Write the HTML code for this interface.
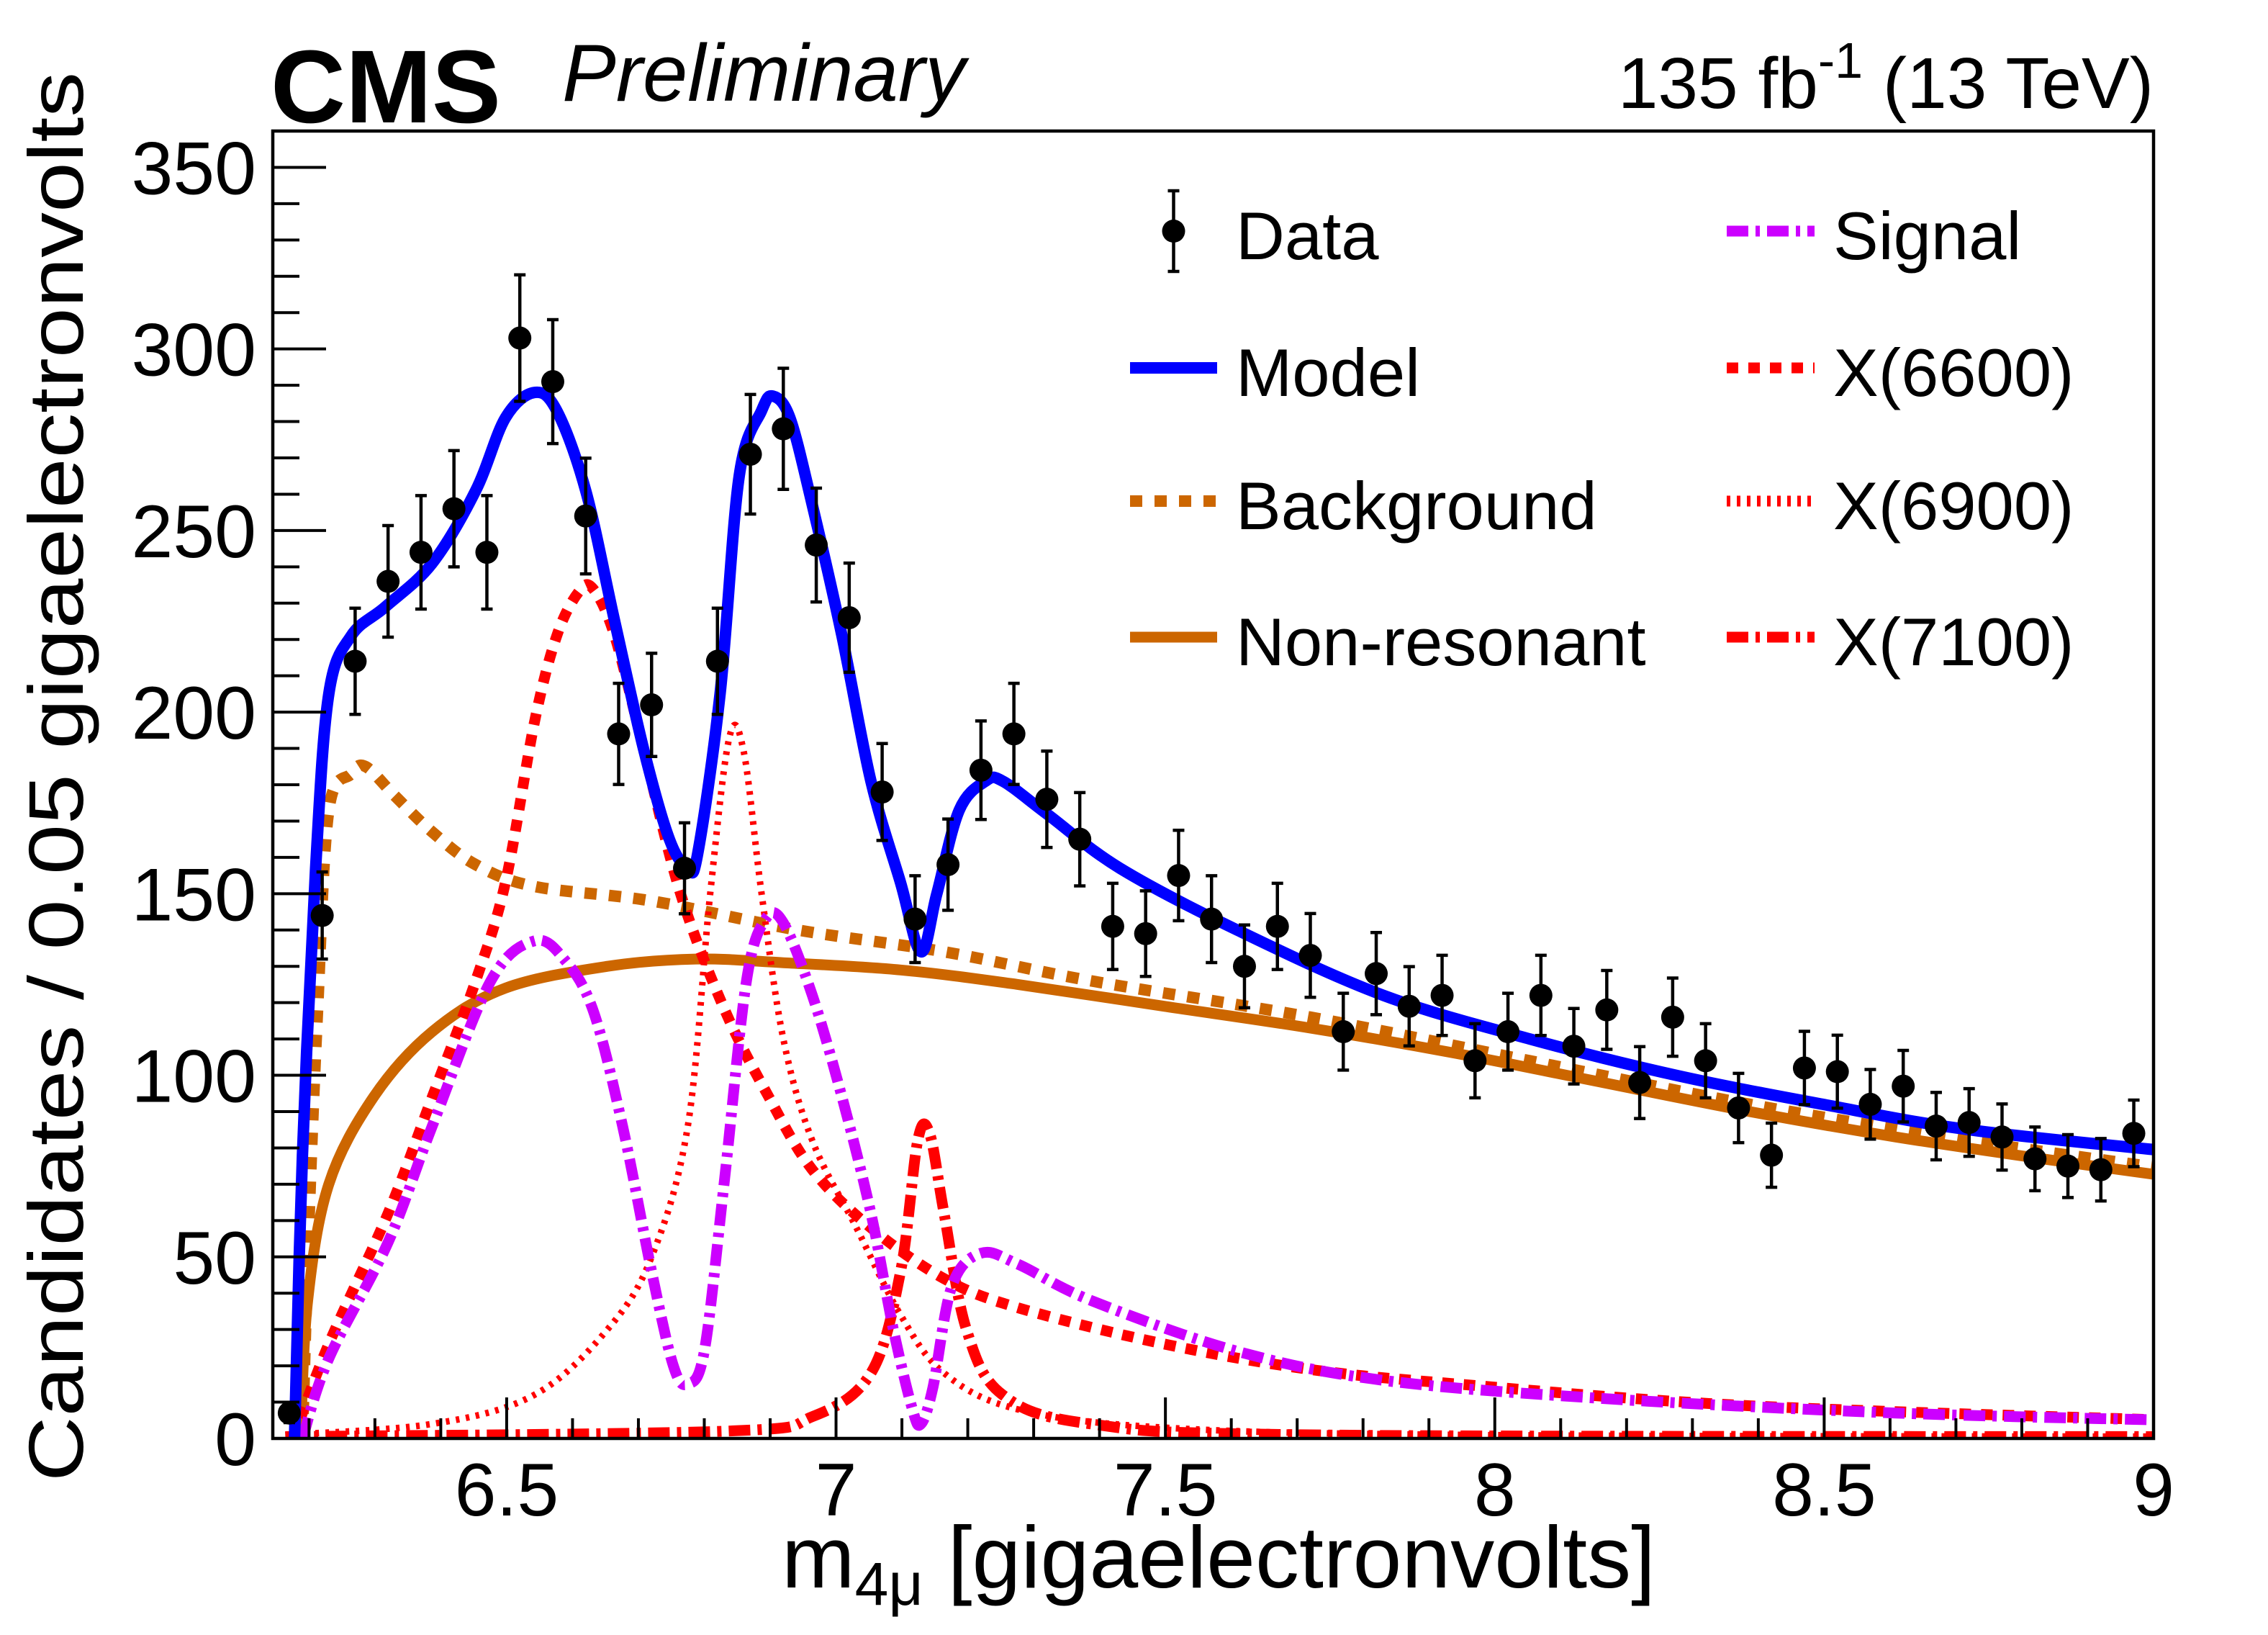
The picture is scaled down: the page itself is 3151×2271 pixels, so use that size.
<!DOCTYPE html>
<html><head><meta charset="utf-8">
<style>
html,body{margin:0;padding:0;background:#fff;}
svg{display:block;font-family:"Liberation Sans",Arial,sans-serif;}
</style></head>
<body>
<svg id="chart" width="3151" height="2271" viewBox="0 0 3151 2271" xmlns="http://www.w3.org/2000/svg">
<rect width="3151" height="2271" fill="#fff"/>
<defs><clipPath id="plotclip"><rect x="379" y="182" width="2613" height="1816"/></clipPath></defs>
<g id="curves" clip-path="url(#plotclip)"></g>
<g id="data"></g>
<g id="axes"></g>
<text x="376" y="170" font-size="144" font-weight="bold">CMS</text>
<text x="781" y="140" font-size="112" font-style="italic">Preliminary</text>
<text x="2992" y="150" font-size="100" text-anchor="end">135 fb<tspan dy="-42" font-size="70">-1</tspan><tspan dy="42"> (13 TeV)</tspan></text>
<text x="2300" y="2205" font-size="122" text-anchor="end">m<tspan dy="24" font-size="84">4μ</tspan><tspan dy="-24"> [gigaelectronvolts]</tspan></text>
<text transform="translate(115,2058) rotate(-90)" x="0" y="0" font-size="108" textLength="1958" lengthAdjust="spacingAndGlyphs">Candidates / 0.05 gigaelectronvolts</text>
<g id="legend"></g>
</svg>
<script>
const NS="http://www.w3.org/2000/svg";
// ---- data arrays ----
const dataX0 = 6.17, binW = 0.05;
const dataCounts = [7,144,214,236,244,256,244,303,291,254,194,202,157,214,271,278,246,226,178,143,158,184,194,176,165,141,139,155,143,130,141,133,112,128,119,122,104,112,122,108,118,98,116,104,91,78,102,101,92,97,86,87,83,77,75,74,84];
const modelX = [6.178,6.19,6.21,6.23,6.264,6.316,6.387,6.453,6.498,6.542,6.576,6.62,6.664,6.709,6.747,6.775,6.79,6.824,6.853,6.887,6.904,6.93,6.964,7.009,7.053,7.098,7.129,7.153,7.187,7.227,7.253,7.32,7.431,7.609,7.831,8.053,8.275,8.498,8.72,9.03];
const modelY = [0,78,157,205,221,229,241,261,281,288,283,261,225,189,165,157,161,205,265,283,287,281,257,221,181,153,134,150,173,181,181,172,157,140,122,110,100,92,85,79];
const bkgX = [6.19,6.2,6.213,6.23,6.264,6.286,6.33,6.387,6.453,6.542,6.72,6.942,7.164,7.387,7.72,8.053,8.387,8.72,9.03];
const bkgY = [0,60,118,173,183,185,177,167,158,152,148,140,134,126,116,104,92,82,74];
const nonresX = [6.187,6.198,6.23,6.298,6.387,6.498,6.653,6.787,6.92,7.098,7.276,7.498,7.72,7.942,8.164,8.387,8.609,8.831,9.03];
const nonresY = [0,38,70,94,112,124,130,132,131,129,125,119,113,106,98,90,83,77,72];
const sigX = [6.19,6.23,6.32,6.387,6.476,6.542,6.587,6.631,6.676,6.72,6.753,6.775,6.8,6.83,6.864,6.893,6.92,6.964,7.009,7.053,7.087,7.116,7.129,7.147,7.176,7.22,7.276,7.387,7.609,7.831,8.164,8.609,9.03];
const sigY = [0,22,54,86,126,137,132,118,86,46,20,15,24,70,126,143,142,122,94,62,30,8,4,14,42,51,48,38,24,16,11,7,5];
const x6600X = [6.176,6.23,6.32,6.387,6.453,6.498,6.542,6.576,6.609,6.631,6.664,6.709,6.764,6.831,6.898,6.964,7.053,7.164,7.276,7.498,7.72,7.942,8.387,9.03];
const x6600Y = [0,26,62,94,126,153,197,221,233,234,221,189,150,118,94,74,58,44,36,26,19,15,9,5];
const x6900X = [6.164,6.387,6.542,6.653,6.72,6.775,6.809,6.838,6.86,6.887,6.92,6.964,7.031,7.098,7.164,7.276,7.498,7.942,9.03];
const x6900Y = [1,4,12,30,50,86,150,193,189,150,110,82,58,34,18,8,3,1,0.5];
const x7100X = [6.164,6.831,6.964,7.053,7.098,7.124,7.142,7.164,7.198,7.253,7.387,7.72,9.03];
const x7100Y = [0.5,2,6,18,46,82,84,62,30,12,4,1,0.5];
const xTickLabels = ["6.5","7","7.5","8","8.5","9"];
const yTickLabels = ["0","50","100","150","200","250","300","350"];
// ---- axes functions ----
const X0=379,X1=2992,Y0=1998,Y1=182, xmin=6.145, xmax=9.0, ymin=0, ymax=360;
const sx=v=>X0+(v-xmin)/(xmax-xmin)*(X1-X0);
const sy=v=>Y0-(v-ymin)/(ymax-ymin)*(Y0-Y1);
function mk(tag,attrs,parent){const e=document.createElementNS(NS,tag);for(const k in attrs)e.setAttribute(k,attrs[k]);parent.appendChild(e);return e;}
function smoothPath(xs,ys){
  const p=xs.map((x,i)=>[sx(x),sy(ys[i])]);
  let d=`M${p[0][0].toFixed(1)},${p[0][1].toFixed(1)}`;
  for(let i=0;i<p.length-1;i++){
    const p0=p[Math.max(i-1,0)],p1=p[i],p2=p[i+1],p3=p[Math.min(i+2,p.length-1)];
    const c1=[p1[0]+(p2[0]-p0[0])/6,p1[1]+(p2[1]-p0[1])/6];
    const c2=[p2[0]-(p3[0]-p1[0])/6,p2[1]-(p3[1]-p1[1])/6];
    d+=` C${c1[0].toFixed(1)},${c1[1].toFixed(1)} ${c2[0].toFixed(1)},${c2[1].toFixed(1)} ${p2[0].toFixed(1)},${p2[1].toFixed(1)}`;
  }
  return d;
}
const curves=document.getElementById('curves');
const styles={
 nonres:{c:"#cc6600",w:15,da:""},
 bkg:{c:"#cc6600",w:16,da:"17 17"},
 x6900:{c:"#ff0000",w:9,da:"5 9"},
 x7100:{c:"#ff0000",w:15,da:"30 10 6 10"},
 x6600:{c:"#ff0000",w:15,da:"16 14"},
 sig:{c:"#cc00ff",w:15,da:"30 10 6 10"},
 model:{c:"#0000ff",w:16,da:""}
};
function drawCurve(xs,ys,st,name){
  const e=mk('path',{d:smoothPath(xs,ys),fill:"none",stroke:st.c,"stroke-width":st.w,"stroke-linejoin":"round"},curves);
  if(st.da)e.setAttribute('stroke-dasharray',st.da);
  
  
}
drawCurve(nonresX,nonresY,styles.nonres,'non-resonant-curve');
drawCurve(bkgX,bkgY,styles.bkg,'background-curve');
drawCurve(x6900X,x6900Y,styles.x6900,'x6900-curve');
drawCurve(x7100X,x7100Y,styles.x7100,'x7100-curve');
drawCurve(x6600X,x6600Y,styles.x6600,'x6600-curve');
drawCurve(sigX,sigY,styles.sig,'signal-curve');
drawCurve(modelX,modelY,styles.model,'model-curve');
// data points
const dg=document.getElementById('data');
dataCounts.forEach((n,i)=>{
  const xv=dataX0+i*binW, err=Math.sqrt(n);
  const cx=sx(xv), yc=sy(n), yt=sy(n+err), yb=Math.min(sy(Math.max(n-err,0)),Y0);
  const g=mk('g',{},dg);
  
  
  mk('line',{x1:cx,x2:cx,y1:yt,y2:yb,stroke:"#000","stroke-width":4.5},g);
  mk('line',{x1:cx-8,x2:cx+8,y1:yt,y2:yt,stroke:"#000","stroke-width":4.5},g);
  mk('line',{x1:cx-8,x2:cx+8,y1:yb,y2:yb,stroke:"#000","stroke-width":4.5},g);
  mk('circle',{cx:cx,cy:yc,r:16,fill:"#000"},g);
});
// axes
const ax=document.getElementById('axes');
const fr=mk('rect',{x:X0,y:Y1,width:X1-X0,height:Y0-Y1,fill:"none",stroke:"#000","stroke-width":4.5},ax);


for(let v=0;v<=360;v+=10){
  const major=v%50===0;
  mk('line',{x1:X0,x2:X0+(major?74:37),y1:sy(v),y2:sy(v),stroke:"#000","stroke-width":4},ax);
}
yTickLabels.forEach(s=>{
  const t=mk('text',{x:356,y:sy(+s)+37,"font-size":104,"text-anchor":"end"},ax);
  t.textContent=s;
  
  
});
for(let k=62;k<=90;k++){
  const v=k/10, major=k%5===0;
  mk('line',{x1:sx(v),x2:sx(v),y1:Y0,y2:Y0-(major?57:28),stroke:"#000","stroke-width":4},ax);
}
xTickLabels.forEach(s=>{
  const t=mk('text',{x:sx(+s),y:2105,"font-size":104,"text-anchor":"middle"},ax);
  t.textContent=s;
  
  
});
// legend
const lg=document.getElementById('legend');
const legLeft=[["Data",360,"data"],["Model",550,"model"],["Background",735,"bkg"],["Non-resonant",924,"nonres"]];
const legRight=[["Signal",360,"sig"],["X(6600)",550,"x6600"],["X(6900)",735,"x6900"],["X(7100)",924,"x7100"]];
function legEntry(label,base,key,lx0,lx1,tx){
  const g=mk('g',{},lg);
  
  
  const cy=base-39;
  if(key==="data"){
    const cx=(lx0+lx1)/2;
    mk('line',{x1:cx,x2:cx,y1:cy-56,y2:cy+56,stroke:"#000","stroke-width":4.5},g);
    mk('line',{x1:cx-8,x2:cx+8,y1:cy-56,y2:cy-56,stroke:"#000","stroke-width":4.5},g);
    mk('line',{x1:cx-8,x2:cx+8,y1:cy+56,y2:cy+56,stroke:"#000","stroke-width":4.5},g);
    mk('circle',{cx:cx,cy:cy,r:16,fill:"#000"},g);
  } else {
    const st=styles[key];
    const l=mk('line',{x1:lx0,x2:lx1,y1:cy,y2:cy,stroke:st.c,"stroke-width":Math.max(st.w,15)},g);
    if(st.da)l.setAttribute('stroke-dasharray',st.da);
  }
  const t=mk('text',{x:tx,y:base,"font-size":94},g);
  t.textContent=label;
}
legLeft.forEach(r=>legEntry(r[0],r[1],r[2],1570,1691,1717));
legRight.forEach(r=>legEntry(r[0],r[1],r[2],2399,2521,2547));
</script>
</body></html>
